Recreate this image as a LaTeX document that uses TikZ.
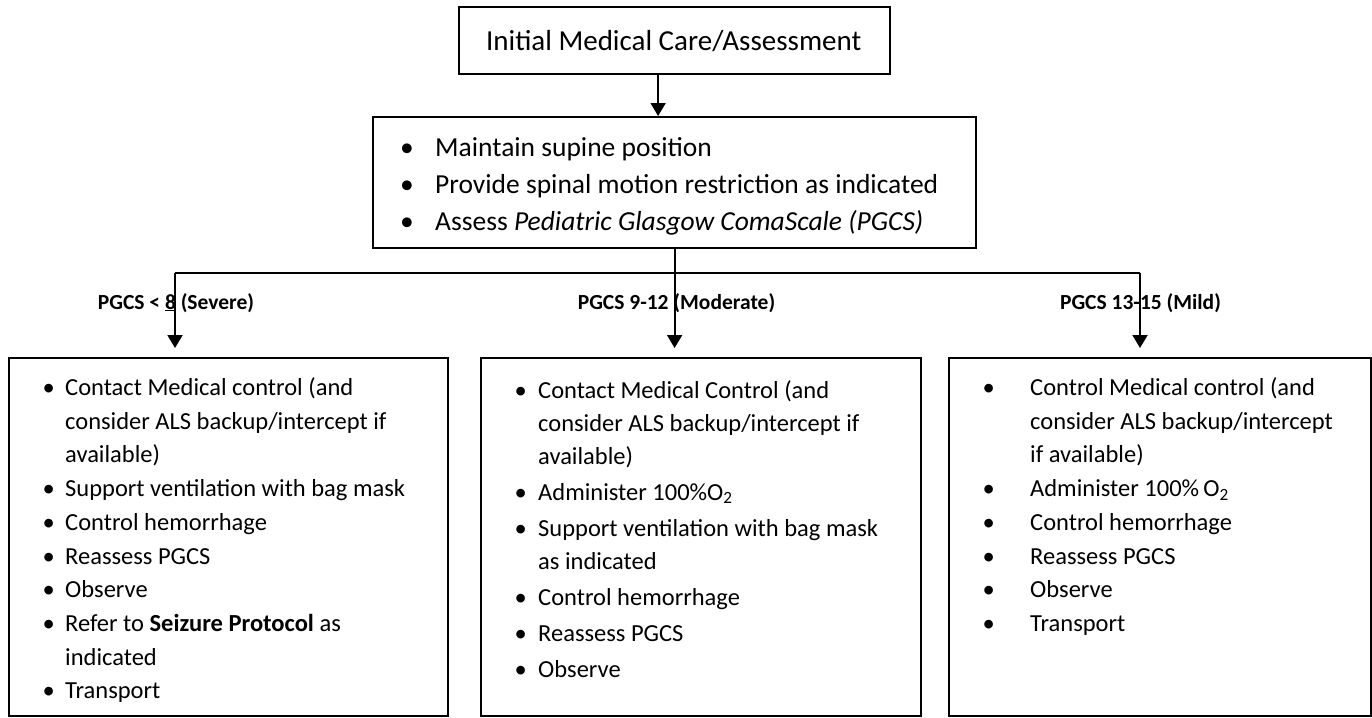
\documentclass[tikz,border=0pt]{standalone}
\usepackage{fontspec}
\setmainfont{Carlito}
\usetikzlibrary{arrows.meta}
\newlength{\bgap}
\newcommand{\bitem}{\makebox[\bgap][l]{\textbullet}}
\newcommand{\bcont}{\hspace*{\bgap}}
\newcommand{\headfont}{\fontsize{27.5}{37}\selectfont}
\newcommand{\listfont}{\fontsize{24.5}{33.7}\selectfont}
\newcommand{\labfont}{\fontsize{21.5}{26}\selectfont\bfseries}

\begin{document}
\begin{tikzpicture}[x=1pt,y=-1pt,>={Triangle[width=15pt,length=13pt]},
  frame/.style={draw,line width=2.2pt,inner sep=0pt,anchor=north west},
  list/.style={anchor=north west,inner sep=0pt,align=left,
    execute at begin node={\setlength{\bgap}{#1}\strut}},
  branch/.style={font=\labfont,anchor=base},
  link/.style={line width=1.9pt},
  flow/.style={link,->}]
  \useasboundingbox (0,0) rectangle (1372,717);

  % first two steps
  \node[frame,minimum width=431pt,minimum height=67pt,text width=377pt,
    align=flush left,font=\fontsize{29}{36}\selectfont] (init) at (458,6)
    {Initial Medical Care/Assessment};
  \node[frame,minimum width=603pt,minimum height=131pt] (steps) at (372,116) {};
  \node[list=35pt,font=\headfont] (stepstxt)
    at ([xshift=28pt,yshift=-21pt]steps.north west)
    {\bitem Maintain supine position\\
     \bitem Provide spinal motion restriction as indicated\\
     \bitem Assess \textit{Pediatric Glasgow ComaScale (PGCS)}};
  \coordinate (initout) at ([xshift=-16.5pt]init.south);
  \draw[flow] (initout) -- (initout |- steps.north);

  % the three PGCS boxes
  \node[frame,minimum width=439pt,minimum height=358pt] (severe) at (8,357) {};
  \node[frame,minimum width=440pt,minimum height=358pt] (moderate) at (480,357) {};
  \node[frame,minimum width=422pt,minimum height=358pt] (mild) at (948,357) {};

  \node[list=22.5pt,font=\listfont] (severetxt)
    at ([xshift=34.5pt,yshift=-20.4pt]severe.north west)
    {\bitem Contact Medical control (and\\
     \bcont consider ALS backup/intercept if\\
     \bcont available)\\
     \bitem Support ventilation with bag mask\\
     \bitem Control hemorrhage\\
     \bitem Reassess PGCS\\
     \bitem Observe\\
     \bitem Refer to \textbf{Seizure Protocol} as\\
     \bcont indicated\\
     \bitem Transport};
  \node[list=23.5pt,font=\fontsize{24.5}{33}\selectfont] (moderatetxt)
    at ([xshift=34.5pt,yshift=-23pt]moderate.north west)
    {\bitem Contact Medical Control (and\\
     \bcont consider ALS backup/intercept if\\
     \bcont available)\\[3pt]
     \bitem Administer 100\%O\textsubscript{2}\\[3pt]
     \bitem Support ventilation with bag mask\\
     \bcont as indicated\\[3pt]
     \bitem Control hemorrhage\\[3pt]
     \bitem Reassess PGCS\\[3pt]
     \bitem Observe};
  \node[list=47.5pt,font=\listfont] (mildtxt)
    at ([xshift=34.5pt,yshift=-20.4pt]mild.north west)
    {\bitem Control Medical control (and\\
     \bcont consider ALS backup/intercept\\
     \bcont if available)\\
     \bitem Administer 100\%\,O\textsubscript{2}\\
     \bitem Control hemorrhage\\
     \bitem Reassess PGCS\\
     \bitem Observe\\
     \bitem Transport};

  % branch labels
  \node[branch] (labsevere) at (176,309) {PGCS < \underline{8} (Severe)};
  \node[branch] (labmoderate) at (676.5,309) {PGCS 9-12 (Moderate)};
  \node[branch] (labmild) at (1140.5,309) {PGCS 13-15 (Mild)};

  % fork to the three boxes
  \coordinate (fork) at (steps.south |- 0,273);
  \coordinate (forkL) at (175,273);
  \coordinate (forkR) at (1140,273);
  \draw[link] (steps.south) -- (fork);
  \draw[link] (forkL) -- (forkR);
  \foreach \f/\b in {forkL/severe,fork/moderate,forkR/mild}
    \draw[flow,shorten >=9pt] (\f) -- (\f |- \b.north);
\end{tikzpicture}
\end{document}
